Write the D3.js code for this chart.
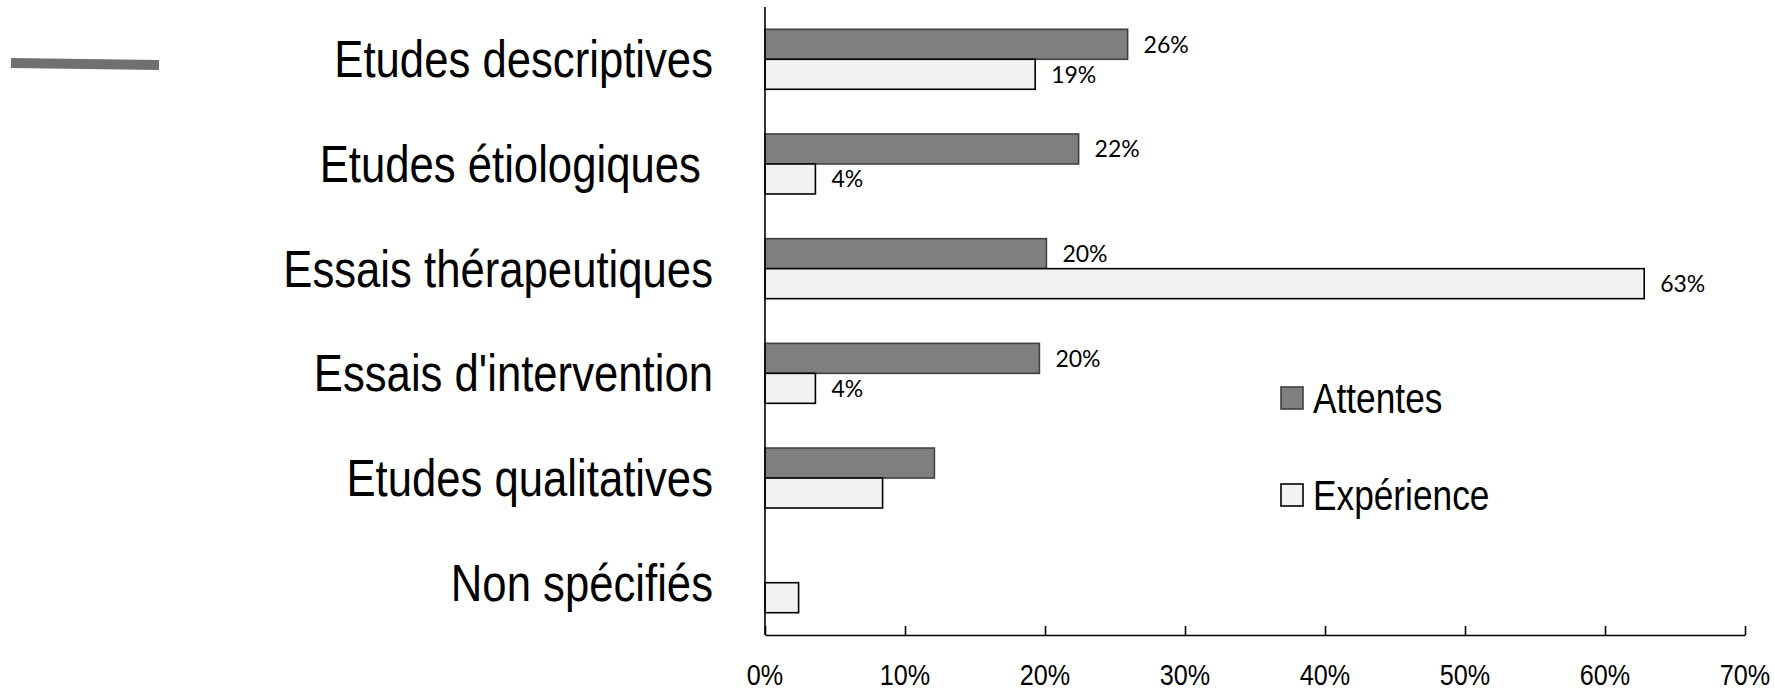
<!DOCTYPE html>
<html>
<head>
<meta charset="utf-8">
<script src="https://cdn.jsdelivr.net/npm/d3@7"></script>
<style>
  body { margin: 0; background: #fff; }
  svg { display: block; }
  .narrow { font-family: "Liberation Sans Narrow", "Arial Narrow", "Liberation Sans", sans-serif; }
</style>
</head>
<body>
<div id="chart"></div>
<script>

// ======================= //
// DATA
// ======================= //

var categories = ["Etudes descriptives", "Etudes étiologiques ", "Essais thérapeutiques",
                  "Essais d'intervention", "Etudes qualitatives", "Non spécifiés"]
var series = ["Attentes", "Expérience"]
var attentes   = [0.259, 0.224, 0.201, 0.196, 0.121, 0]
var experience = [0.193, 0.036, 0.628, 0.036, 0.084, 0.024]
// only the first four groups carry a value label
var labelled = [true, true, true, true, false, false]
var xTicks = [0, 0.1, 0.2, 0.3, 0.4, 0.5, 0.6, 0.7]

var fills   = {"Attentes": "#7f7f7f", "Expérience": "#f2f2f2"}
var strokes = {"Attentes": "#404040", "Expérience": "#000000"}

var rows = categories.map(function(c, i) {
  return {cat: c, i: i, Attentes: attentes[i], "Expérience": experience[i]}
})

// ======================= //
// SVG, SCALES
// ======================= //

var W = 1775, H = 691
var svg = d3.select("#chart").append("svg")
    .attr("width", W)
    .attr("height", H)

// is a real narrow face there? if not, squeeze the regular one
var probe = svg.append("text").attr("class", "narrow").style("font-size", "100px").text("Etudes descriptives")
var probeW = probe.node().getComputedTextLength()
probe.attr("class", null).style("font-family", "Liberation Sans, sans-serif")
var regW = probe.node().getComputedTextLength()
probe.remove()
var sx = (probeW / regW < 0.9) ? 1 : 0.84

function narrowAt(px, py) {
  return "translate(" + px + "," + py + ") scale(" + sx + ",1)"
}

var x = d3.scaleLinear()
  .domain([0, 0.7])
  .range([765, 1745])

var y = d3.scaleBand()
  .domain(categories)
  .range([7, 635])
  .paddingInner(0.427)
  .paddingOuter(0.213)

var ySub = d3.scaleBand()
  .domain(series)
  .range([0, y.bandwidth()])

// ======================= //
// BARS
// ======================= //

var groups = svg.append("g")
  .selectAll("g")
  .data(rows)
  .enter().append("g")
    .attr("transform", function(d) { return "translate(0," + y(d.cat) + ")" })

groups.selectAll("rect")
  .data(function(d) { return series.map(function(s) { return {key: s, value: d[s]} }) })
  .enter()
  .filter(function(d) { return d.value > 0 })
  .append("rect")
    .attr("x", x(0))
    .attr("y", function(d) { return ySub(d.key) })
    .attr("width", function(d) { return x(d.value) - x(0) })
    .attr("height", ySub.bandwidth())
    .attr("fill", function(d) { return fills[d.key] })
    .attr("stroke", function(d) { return strokes[d.key] })
    .attr("stroke-width", 1.6)

// value labels
groups.filter(function(d) { return labelled[d.i] })
  .selectAll("text")
  .data(function(d) { return series.map(function(s) { return {key: s, value: d[s]} }) })
  .enter()
  .append("text")
    .attr("x", function(d) { return x(d.value) + 16 })
    .attr("y", function(d) { return ySub(d.key) + ySub.bandwidth() / 2 })
    .attr("dy", "0.36em")
    .style("font-family", "Lato, 'Open Sans', sans-serif")
    .style("font-size", "23px")
    .style("fill", "#000")
    .text(function(d) { return d3.format(".0%")(d.value) })

// ======================= //
// AXES
// ======================= //

// vertical axis line
svg.append("line")
    .attr("x1", x(0)).attr("x2", x(0))
    .attr("y1", 7).attr("y2", 635)
    .attr("stroke", "#000")
    .attr("stroke-width", 1.6)

// bottom axis, ticks pointing inward
var xAxis = svg.append("g")
    .attr("transform", "translate(0,635)")
    .call(d3.axisTop(x).tickValues(xTicks).tickSize(9).tickSizeOuter(0).tickFormat(""))
xAxis.select(".domain").attr("stroke", "#000").attr("stroke-width", 1.6)
xAxis.selectAll(".tick line").attr("stroke", "#000").attr("stroke-width", 1.6)

svg.selectAll("xLabels")
  .data(xTicks)
  .enter()
  .append("text")
    .attr("class", "narrow")
    .attr("transform", function(d) { return narrowAt(x(d), 685) })
    .style("font-size", "30px")
    .style("text-anchor", "middle")
    .text(function(d) { return d3.format(".0%")(d) })

// category labels on the left
svg.selectAll("catLabels")
  .data(categories)
  .enter()
  .append("text")
    .attr("class", "narrow")
    .attr("transform", function(d) { return narrowAt(713, y(d) + y.bandwidth() / 2 + 18) })
    .style("font-size", "52px")
    .style("white-space", "pre")
    .style("text-anchor", "end")
    .text(function(d) { return d })

// ======================= //
// LEGEND
// ======================= //

var legend = svg.selectAll("legend")
  .data(series)
  .enter()
  .append("g")
    .attr("transform", function(d, i) { return "translate(1281," + (387 + i * 97) + ")" })

legend.append("rect")
    .attr("width", 22)
    .attr("height", 22)
    .attr("fill", function(d) { return fills[d] })
    .attr("stroke", function(d) { return strokes[d] })
    .attr("stroke-width", 1.6)

legend.append("text")
    .attr("class", "narrow")
    .attr("transform", narrowAt(32, 26))
    .style("font-size", "42px")
    .text(function(d) { return d })

// stray grey stroke at top left
svg.append("line")
    .attr("x1", 11).attr("y1", 63)
    .attr("x2", 159).attr("y2", 65)
    .attr("stroke", "#707070")
    .attr("stroke-width", 10)

</script>
</body>
</html>
